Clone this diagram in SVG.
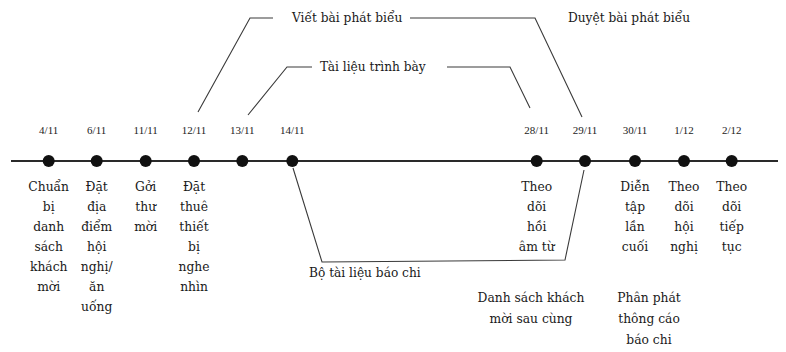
<svg xmlns="http://www.w3.org/2000/svg" width="786" height="352" viewBox="0 0 786 352">
  <style>
    .axis { stroke: #2a2a2a; stroke-width: 2; fill: none; }
    .span { stroke: #3a3a3a; stroke-width: 1.1; fill: none; }
    .dot { fill: #111; }
    .date { font-family: "Liberation Serif", serif; font-size: 11px; fill: #222; text-anchor: middle; }
    .lbl { font-family: "DejaVu Serif", "Liberation Serif", serif; font-size: 12.3px; fill: #1a1a1a; text-anchor: middle; }
    .lbl-l { font-family: "DejaVu Serif", "Liberation Serif", serif; font-size: 12.2px; fill: #1a1a1a; }
  </style>
  <rect width="786" height="352" fill="#ffffff"/>

  <!-- Connectors: timeline axis and span brackets -->
  <g id="connectors">
    <line class="axis" x1="11" y1="161" x2="778" y2="161"/>
    <!-- Viết bài phát biểu: 12/11 to 29/11 -->
    <polyline class="span" points="198,112 250,18 273,18"/>
    <polyline class="span" points="410,18 535,18 582,117"/>
    <!-- Tài liệu trình bày: 13/11 to 28/11 -->
    <polyline class="span" points="248,115 287,67 312,67"/>
    <polyline class="span" points="447,67 510,67 530,108"/>
    <!-- Bộ tài liệu báo chi: 14/11 to 29/11 -->
    <polyline class="span" points="293,168 322,262 565,260 584,170"/>
  </g>

  <!-- Span labels -->
  <g id="span-viet-bai"><text class="lbl-l" x="292" y="22">Viết bài phát biểu</text></g>
  <g id="span-tai-lieu"><text class="lbl-l" x="320" y="71">Tài liệu trình bày</text></g>
  <g id="span-duyet-bai"><text class="lbl-l" x="568" y="22">Duyệt bài phát biểu</text></g>
  <g id="span-bo-tai-lieu"><text class="lbl-l" x="309" y="277">Bộ tài liệu báo chi</text></g>

  <!-- Milestones -->
  <g id="m-4-11">
    <text class="date" x="48.7" y="134">4/11</text>
    <circle class="dot" cx="48.7" cy="161" r="6"/>
    <text class="lbl" x="48.7" y="191">Chuẩn<tspan x="48.7" dy="20">bị</tspan><tspan x="48.7" dy="20">danh</tspan><tspan x="48.7" dy="20">sách</tspan><tspan x="48.7" dy="20">khách</tspan><tspan x="48.7" dy="20">mời</tspan></text>
  </g>
  <g id="m-6-11">
    <text class="date" x="96.7" y="134">6/11</text>
    <circle class="dot" cx="96.7" cy="161" r="6"/>
    <text class="lbl" x="96.7" y="191">Đặt<tspan x="96.7" dy="20">địa</tspan><tspan x="96.7" dy="20">điểm</tspan><tspan x="96.7" dy="20">hội</tspan><tspan x="96.7" dy="20">nghị/</tspan><tspan x="96.7" dy="20">ăn</tspan><tspan x="96.7" dy="20">uống</tspan></text>
  </g>
  <g id="m-11-11">
    <text class="date" x="145.7" y="134">11/11</text>
    <circle class="dot" cx="145.7" cy="161" r="6"/>
    <text class="lbl" x="145.7" y="191">Gởi<tspan x="145.7" dy="20">thư</tspan><tspan x="145.7" dy="20">mời</tspan></text>
  </g>
  <g id="m-12-11">
    <text class="date" x="194" y="134">12/11</text>
    <circle class="dot" cx="194" cy="161" r="6"/>
    <text class="lbl" x="194" y="191">Đặt<tspan x="194" dy="20">thuê</tspan><tspan x="194" dy="20">thiết</tspan><tspan x="194" dy="20">bị</tspan><tspan x="194" dy="20">nghe</tspan><tspan x="194" dy="20">nhìn</tspan></text>
  </g>
  <g id="m-13-11">
    <text class="date" x="242.3" y="134">13/11</text>
    <circle class="dot" cx="242.3" cy="161" r="6"/>
  </g>
  <g id="m-14-11">
    <text class="date" x="292.3" y="134">14/11</text>
    <circle class="dot" cx="292.3" cy="161" r="6"/>
  </g>
  <g id="m-28-11">
    <text class="date" x="536.7" y="134">28/11</text>
    <circle class="dot" cx="536.7" cy="161" r="6"/>
    <text class="lbl" x="536.7" y="191">Theo<tspan x="536.7" dy="20">dõi</tspan><tspan x="536.7" dy="20">hồi</tspan><tspan x="536.7" dy="20">âm từ</tspan></text>
    <text class="lbl" x="531" y="302">Danh sách khách<tspan x="531" dy="21">mời sau cùng</tspan></text>
  </g>
  <g id="m-29-11">
    <text class="date" x="585" y="134">29/11</text>
    <circle class="dot" cx="585" cy="161" r="6"/>
  </g>
  <g id="m-30-11">
    <text class="date" x="635" y="134">30/11</text>
    <circle class="dot" cx="635" cy="161" r="6"/>
    <text class="lbl" x="635" y="191">Diễn<tspan x="635" dy="20">tập</tspan><tspan x="635" dy="20">lần</tspan><tspan x="635" dy="20">cuối</tspan></text>
    <text class="lbl" x="649" y="302">Phân phát<tspan x="649" dy="21">thông cáo</tspan><tspan x="649" dy="21">báo chi</tspan></text>
  </g>
  <g id="m-1-12">
    <text class="date" x="684" y="134">1/12</text>
    <circle class="dot" cx="684" cy="161" r="6"/>
    <text class="lbl" x="684" y="191">Theo<tspan x="684" dy="20">dõi</tspan><tspan x="684" dy="20">hội</tspan><tspan x="684" dy="20">nghị</tspan></text>
  </g>
  <g id="m-2-12">
    <text class="date" x="731.7" y="134">2/12</text>
    <circle class="dot" cx="731.7" cy="161" r="6"/>
    <text class="lbl" x="731.7" y="191">Theo<tspan x="731.7" dy="20">dõi</tspan><tspan x="731.7" dy="20">tiếp</tspan><tspan x="731.7" dy="20">tục</tspan></text>
  </g>
</svg>
